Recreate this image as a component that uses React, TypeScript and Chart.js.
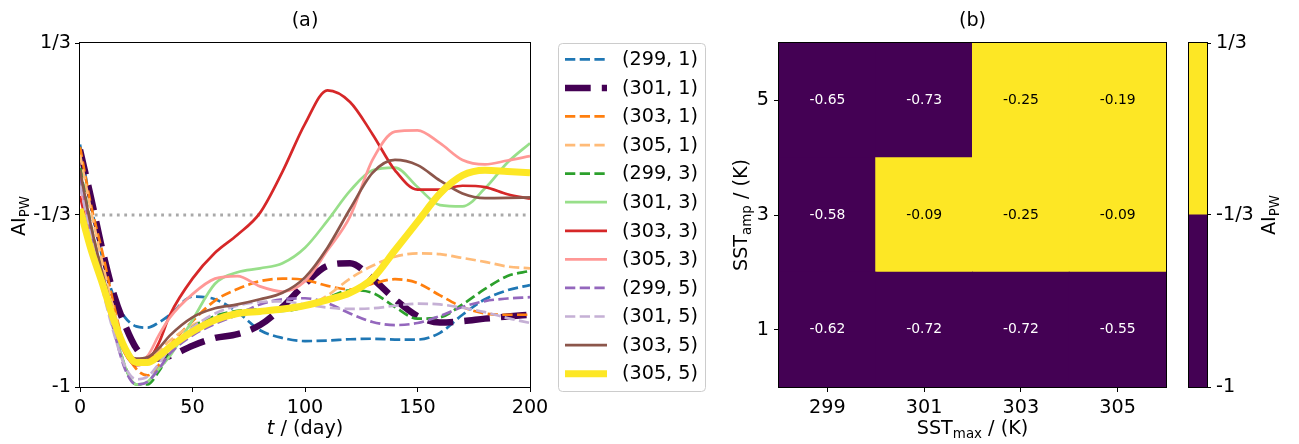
import React, { useEffect, useRef } from 'react';
import { Chart, registerables } from 'chart.js';

Chart.register(...registerables);

const FONT = "'DejaVu Sans', 'Liberation Sans', sans-serif";
const FS = 19.2;
const SUB = 13.4;
const SUB_DY = 3.5;
const CELL_FS = 13.9;

// ---------- Panel (a) data ----------
const days = [0, 5, 10, 15, 20, 25, 30, 35, 40, 50, 60, 70, 80, 90, 100, 110, 120, 130, 140, 150, 160, 170, 180, 190, 200];

const ai_299_1 = [-0.06, -0.3, -0.5, -0.65, -0.73, -0.765, -0.77, -0.75, -0.72, -0.65, -0.66, -0.71, -0.78, -0.81, -0.822, -0.82, -0.815, -0.813, -0.816, -0.816, -0.79, -0.72, -0.66, -0.625, -0.605];
const ai_301_1 = [-0.08, -0.27, -0.47, -0.64, -0.76, -0.85, -0.89, -0.89, -0.88, -0.84, -0.81, -0.795, -0.76, -0.69, -0.6, -0.53, -0.52, -0.58, -0.66, -0.725, -0.75, -0.745, -0.735, -0.727, -0.72];
const ai_303_1 = [-0.07, -0.3, -0.48, -0.68, -0.85, -0.93, -0.955, -0.915, -0.84, -0.745, -0.665, -0.62, -0.59, -0.58, -0.585, -0.608, -0.622, -0.6, -0.582, -0.597, -0.645, -0.69, -0.715, -0.72, -0.72];
const ai_305_1 = [-0.1, -0.32, -0.52, -0.7, -0.84, -0.895, -0.895, -0.86, -0.82, -0.76, -0.73, -0.71, -0.705, -0.7, -0.69, -0.645, -0.58, -0.53, -0.495, -0.482, -0.485, -0.5, -0.515, -0.533, -0.54];
const ai_299_3 = [-0.15, -0.38, -0.57, -0.76, -0.92, -0.99, -0.99, -0.94, -0.87, -0.77, -0.725, -0.705, -0.7, -0.705, -0.69, -0.655, -0.625, -0.635, -0.69, -0.735, -0.73, -0.68, -0.62, -0.57, -0.55];
const ai_301_3 = [-0.2, -0.4, -0.58, -0.76, -0.92, -0.99, -0.98, -0.93, -0.88, -0.74, -0.6, -0.555, -0.54, -0.52, -0.46, -0.355, -0.24, -0.16, -0.15, -0.225, -0.295, -0.3, -0.23, -0.13, -0.055];
const ai_303_3 = [-0.26, -0.44, -0.6, -0.75, -0.87, -0.915, -0.9, -0.83, -0.72, -0.58, -0.48, -0.41, -0.325, -0.165, 0.02, 0.15, 0.105, -0.02, -0.16, -0.235, -0.235, -0.22, -0.225, -0.253, -0.27];
const ai_305_3 = [-0.22, -0.4, -0.58, -0.74, -0.86, -0.9, -0.88, -0.8, -0.73, -0.64, -0.58, -0.57, -0.61, -0.63, -0.59, -0.47, -0.34, -0.12, -0.01, -0.005, -0.055, -0.12, -0.137, -0.122, -0.105];
const ai_299_5 = [-0.18, -0.4, -0.6, -0.78, -0.93, -0.99, -0.98, -0.93, -0.87, -0.8, -0.755, -0.72, -0.68, -0.66, -0.656, -0.675, -0.715, -0.748, -0.76, -0.752, -0.725, -0.69, -0.667, -0.657, -0.652];
const ai_301_5 = [-0.22, -0.42, -0.62, -0.79, -0.92, -0.97, -0.96, -0.91, -0.85, -0.77, -0.715, -0.685, -0.67, -0.668, -0.68, -0.692, -0.697, -0.695, -0.685, -0.677, -0.68, -0.693, -0.71, -0.733, -0.752];
const ai_303_5 = [-0.16, -0.38, -0.56, -0.72, -0.85, -0.89, -0.885, -0.85, -0.8, -0.73, -0.695, -0.68, -0.66, -0.635, -0.575, -0.46, -0.31, -0.17, -0.12, -0.14, -0.2, -0.25, -0.268, -0.267, -0.265];
const ai_305_5 = [-0.31, -0.47, -0.6, -0.74, -0.85, -0.905, -0.905, -0.88, -0.845, -0.785, -0.74, -0.715, -0.707, -0.698, -0.684, -0.662, -0.635, -0.58, -0.47, -0.36, -0.25, -0.18, -0.16, -0.165, -0.17];

const seriesLabels = ['(299, 1)', '(301, 1)', '(303, 1)', '(305, 1)', '(299, 3)', '(301, 3)', '(303, 3)', '(305, 3)', '(299, 5)', '(301, 5)', '(303, 5)', '(305, 5)'];
const seriesValues = [ai_299_1, ai_301_1, ai_303_1, ai_305_1, ai_299_3, ai_301_3, ai_303_3, ai_305_3, ai_299_5, ai_301_5, ai_303_5, ai_305_5];

const thresholdLevel = -1 / 3;
const xTickValues = [0, 50, 100, 150, 200];
const yTickValues = [-1, -1 / 3, 1 / 3];
const yTickLabels = ['-1', '-1/3', '1/3'];

// ---------- Panel (b) data ----------
const sstMax = ['299', '301', '303', '305'];
const sstAmp = [1, 3, 5];
const ai_amp1 = [-0.62, -0.72, -0.72, -0.55];
const ai_amp3 = [-0.58, -0.09, -0.25, -0.09];
const ai_amp5 = [-0.65, -0.73, -0.25, -0.19];
const heatRows = [ai_amp1, ai_amp3, ai_amp5];
const cbBounds = [-1, -1 / 3, 1 / 3];

// ---------- styles ----------
const PURPLE = '#440154';
const YELLOW = '#fde725';
const cbColors = [PURPLE, YELLOW];
const DASH = [10.3, 4.4];
const styles = [
  { color: '#1f77b4', width: 2.7, dash: DASH },
  { color: PURPLE, width: 6.5, dash: [25.7, 11.1] },
  { color: '#ff7f0e', width: 2.7, dash: DASH },
  { color: '#ffbb78', width: 2.7, dash: DASH },
  { color: '#2ca02c', width: 2.7, dash: DASH },
  { color: '#98df8a', width: 2.7, dash: [] as number[] },
  { color: '#d62728', width: 2.7, dash: [] as number[] },
  { color: '#ff9896', width: 2.7, dash: [] as number[] },
  { color: '#9467bd', width: 2.7, dash: DASH },
  { color: '#c5b0d5', width: 2.7, dash: DASH },
  { color: '#8c564b', width: 2.7, dash: [] as number[] },
  { color: YELLOW, width: 7, dash: [] as number[] },
];

type Run = { text: string; size?: number; style?: string; dy?: number };

function drawRuns(ctx: CanvasRenderingContext2D, runs: Run[], x: number, y: number, rotate: boolean) {
  ctx.save();
  ctx.translate(x, y);
  if (rotate) ctx.rotate(-Math.PI / 2);
  ctx.textBaseline = 'alphabetic';
  ctx.textAlign = 'left';
  ctx.fillStyle = '#000';
  const widths = runs.map((r) => {
    ctx.font = `${r.style || 'normal'} ${r.size || FS}px ${FONT}`;
    return ctx.measureText(r.text).width;
  });
  let cx = -widths.reduce((s, w) => s + w, 0) / 2;
  runs.forEach((r, i) => {
    ctx.font = `${r.style || 'normal'} ${r.size || FS}px ${FONT}`;
    ctx.fillText(r.text, cx, r.dy || 0);
    cx += widths[i];
  });
  ctx.restore();
}

function frame(chart: any) {
  const { ctx, chartArea: a } = chart;
  ctx.save();
  ctx.strokeStyle = '#000';
  ctx.lineWidth = 1;
  ctx.setLineDash([]);
  ctx.strokeRect(Math.round(a.left) - 0.5, Math.round(a.top) - 0.5, Math.round(a.right - a.left) + 1, Math.round(a.bottom - a.top) + 1);
  ctx.restore();
}

const tickFont = { family: FONT, size: FS };

function tickGrid(len: number) {
  return { drawOnChartArea: false, drawTicks: true, tickLength: len, color: '#000', tickColor: '#000', tickWidth: 1 };
}

const aiRuns: Run[] = [{ text: 'AI' }, { text: 'PW', size: SUB, dy: SUB_DY }];

export default function App() {
  const refA = useRef<HTMLCanvasElement>(null);
  const refB = useRef<HTMLCanvasElement>(null);
  const refC = useRef<HTMLCanvasElement>(null);

  useEffect(() => {
    const N = seriesValues.length;
    const lineSets: any[] = seriesValues.map((vals, i) => ({
      label: seriesLabels[i],
      data: vals.map((v, j) => ({ x: days[j], y: v })),
      borderColor: styles[i].color,
      backgroundColor: styles[i].color,
      borderWidth: styles[i].width,
      borderDash: styles[i].dash,
      pointRadius: 0,
      fill: false,
      cubicInterpolationMode: 'monotone',
      order: N - 1 - i,
    }));
    lineSets.push({
      label: 'threshold',
      data: [{ x: days[0], y: thresholdLevel }, { x: days[days.length - 1], y: thresholdLevel }],
      borderColor: '#a9a9a9',
      borderWidth: 2.78,
      borderDash: [2.78, 4.6],
      pointRadius: 0,
      fill: false,
      order: 100,
    });

    const decorA = {
      id: 'decorA',
      afterDatasetsDraw(chart: any) {
        frame(chart);
      },
      afterDraw(chart: any) {
        const ctx: CanvasRenderingContext2D = chart.ctx;
        const a = chart.chartArea;
        const cx = (a.left + a.right) / 2;
        const cy = (a.top + a.bottom) / 2;
        drawRuns(ctx, [{ text: '(a)' }], cx, 26, false);
        drawRuns(ctx, [{ text: 't', style: 'italic' }, { text: ' / (day)' }], cx, 434, false);
        drawRuns(ctx, aiRuns, 25, cy + 1, true);

        // legend
        const bx = 558.5, by = 43.5, bw = 147, bh = 348, r = 4;
        ctx.save();
        ctx.beginPath();
        ctx.moveTo(bx + r, by);
        ctx.lineTo(bx + bw - r, by);
        ctx.quadraticCurveTo(bx + bw, by, bx + bw, by + r);
        ctx.lineTo(bx + bw, by + bh - r);
        ctx.quadraticCurveTo(bx + bw, by + bh, bx + bw - r, by + bh);
        ctx.lineTo(bx + r, by + bh);
        ctx.quadraticCurveTo(bx, by + bh, bx, by + bh - r);
        ctx.lineTo(bx, by + r);
        ctx.quadraticCurveTo(bx, by, bx + r, by);
        ctx.closePath();
        ctx.fillStyle = 'rgba(255,255,255,0.8)';
        ctx.fill();
        ctx.strokeStyle = '#cccccc';
        ctx.lineWidth = 1;
        ctx.stroke();
        seriesLabels.forEach((lab, i) => {
          const ds = chart.data.datasets[i];
          const y = 59.3 + i * 28.58;
          ctx.beginPath();
          ctx.setLineDash(ds.borderDash || []);
          ctx.lineWidth = ds.borderWidth;
          ctx.strokeStyle = ds.borderColor;
          ctx.lineCap = 'butt';
          ctx.moveTo(565, y);
          ctx.lineTo(607, y);
          ctx.stroke();
          ctx.setLineDash([]);
          ctx.fillStyle = '#000';
          ctx.font = `${FS}px ${FONT}`;
          ctx.textBaseline = 'alphabetic';
          ctx.textAlign = 'left';
          ctx.fillText(lab, 622, y + 5.8);
        });
        ctx.restore();
      },
    };

    const chartA = new Chart(refA.current!, {
      type: 'line',
      data: { datasets: lineSets },
      options: {
        animation: false,
        responsive: false,
        devicePixelRatio: 1,
        layout: { padding: { left: 0, top: 43, right: 190, bottom: 0 } },
        plugins: { legend: { display: false }, tooltip: { enabled: false }, title: { display: false } },
        scales: {
          x: {
            type: 'linear',
            min: 0,
            max: 200,
            afterBuildTicks: (s: any) => {
              s.ticks = xTickValues.map((value) => ({ value }));
            },
            afterFit: (s: any) => {
              s.height = 57;
            },
            ticks: { font: tickFont, color: '#000', padding: 4, maxRotation: 0, autoSkip: false },
            grid: tickGrid(5),
            border: { display: false },
          },
          y: {
            type: 'linear',
            min: -1,
            max: 1 / 3,
            afterBuildTicks: (s: any) => {
              s.ticks = yTickValues.map((value) => ({ value }));
            },
            afterFit: (s: any) => {
              s.width = 80;
            },
            ticks: {
              font: tickFont,
              color: '#000',
              padding: 4,
              autoSkip: false,
              callback: (v: any) => {
                const i = yTickValues.findIndex((t) => Math.abs(t - Number(v)) < 1e-9);
                return i >= 0 ? yTickLabels[i] : '';
              },
            },
            grid: tickGrid(5),
            border: { display: false },
          },
        },
      } as any,
      plugins: [decorA],
    });

    // ---------- Heatmap ----------
    const colorFor = (v: number) => {
      for (let k = 0; k < cbColors.length; k++) {
        if (v >= cbBounds[k] && v < cbBounds[k + 1]) return cbColors[k];
      }
      return cbColors[cbColors.length - 1];
    };
    const heatSets = heatRows.map((row, r) => ({
      label: `amp ${sstAmp[r]}`,
      data: row.map(() => [sstAmp[r] - 1, sstAmp[r] + 1]),
      values: row,
      backgroundColor: row.map(colorFor),
      borderWidth: 0,
      barPercentage: 1,
      categoryPercentage: 1,
      grouped: false,
      inflateAmount: 0.5,
    }));

    const decorB = {
      id: 'decorB',
      afterDatasetsDraw(chart: any) {
        const ctx: CanvasRenderingContext2D = chart.ctx;
        ctx.save();
        ctx.font = `${CELL_FS}px ${FONT}`;
        ctx.textAlign = 'center';
        ctx.textBaseline = 'middle';
        chart.data.datasets.forEach((ds: any, d: number) => {
          const meta = chart.getDatasetMeta(d);
          meta.data.forEach((el: any, i: number) => {
            const v = ds.values[i];
            ctx.fillStyle = colorFor(v) === YELLOW ? '#000' : '#fff';
            ctx.fillText(v.toFixed(2), el.x, (el.y + el.base) / 2);
          });
        });
        ctx.restore();
        frame(chart);
      },
      afterDraw(chart: any) {
        const ctx: CanvasRenderingContext2D = chart.ctx;
        const a = chart.chartArea;
        const cx = (a.left + a.right) / 2;
        const cy = (a.top + a.bottom) / 2;
        drawRuns(ctx, [{ text: '(b)' }], cx, 26, false);
        drawRuns(ctx, [{ text: 'SST' }, { text: 'max', size: SUB, dy: SUB_DY }, { text: ' / (K)' }], cx, 434, false);
        drawRuns(ctx, [{ text: 'SST' }, { text: 'amp', size: SUB, dy: SUB_DY }, { text: ' / (K)' }], 27, cy, true);
      },
    };

    const chartB = new Chart(refB.current!, {
      type: 'bar',
      data: { labels: sstMax, datasets: heatSets as any },
      options: {
        animation: false,
        responsive: false,
        devicePixelRatio: 1,
        layout: { padding: { left: 0, top: 43, right: 14, bottom: 0 } },
        plugins: { legend: { display: false }, tooltip: { enabled: false }, title: { display: false } },
        scales: {
          x: {
            type: 'category',
            offset: true,
            afterFit: (s: any) => {
              s.height = 57;
            },
            ticks: { font: tickFont, color: '#000', padding: 4, maxRotation: 0, autoSkip: false },
            grid: { ...tickGrid(5), offset: false },
            border: { display: false },
          },
          y: {
            type: 'linear',
            min: 0,
            max: 6,
            afterBuildTicks: (s: any) => {
              s.ticks = sstAmp.map((value) => ({ value }));
            },
            afterFit: (s: any) => {
              s.width = 59;
            },
            ticks: { font: tickFont, color: '#000', padding: 5, autoSkip: false },
            grid: tickGrid(5),
            border: { display: false },
          },
        },
      } as any,
      plugins: [decorB],
    });

    // ---------- Colorbar ----------
    const cbSets = cbColors.map((c, k) => ({
      label: `bin ${k}`,
      data: [[cbBounds[k], cbBounds[k + 1]]],
      backgroundColor: c,
      borderWidth: 0,
      barPercentage: 1,
      categoryPercentage: 1,
      grouped: false,
      inflateAmount: 0.5,
    }));

    const decorC = {
      id: 'decorC',
      afterDatasetsDraw(chart: any) {
        frame(chart);
      },
      afterDraw(chart: any) {
        const ctx: CanvasRenderingContext2D = chart.ctx;
        const a = chart.chartArea;
        const cy = (a.top + a.bottom) / 2;
        drawRuns(ctx, aiRuns, 95, cy, true);
      },
    };

    const chartC = new Chart(refC.current!, {
      type: 'bar',
      data: { labels: ['AI'], datasets: cbSets as any },
      options: {
        animation: false,
        responsive: false,
        devicePixelRatio: 1,
        layout: { padding: { left: 9, top: 43, right: 0, bottom: 57 } },
        plugins: { legend: { display: false }, tooltip: { enabled: false }, title: { display: false } },
        scales: {
          x: { display: false },
          y: {
            type: 'linear',
            position: 'right',
            min: cbBounds[0],
            max: cbBounds[cbBounds.length - 1],
            afterBuildTicks: (s: any) => {
              s.ticks = yTickValues.map((value) => ({ value }));
            },
            afterFit: (s: any) => {
              s.width = 92;
            },
            ticks: {
              font: tickFont,
              color: '#000',
              padding: 5,
              autoSkip: false,
              callback: (v: any) => {
                const i = yTickValues.findIndex((t) => Math.abs(t - Number(v)) < 1e-9);
                return i >= 0 ? yTickLabels[i] : '';
              },
            },
            grid: tickGrid(4),
            border: { display: false },
          },
        },
      } as any,
      plugins: [decorC],
    });

    return () => {
      chartA.destroy();
      chartB.destroy();
      chartC.destroy();
    };
  }, []);

  return (
    <div style={{ position: 'absolute', left: 0, top: 0, width: 1299, height: 444, background: '#fff', overflow: 'hidden' }}>
      <canvas ref={refA} width={720} height={444} style={{ position: 'absolute', left: 0, top: 0, width: 720, height: 444 }} />
      <canvas ref={refB} width={460} height={444} style={{ position: 'absolute', left: 720, top: 0, width: 460, height: 444 }} />
      <canvas ref={refC} width={119} height={444} style={{ position: 'absolute', left: 1180, top: 0, width: 119, height: 444 }} />
    </div>
  );
}
